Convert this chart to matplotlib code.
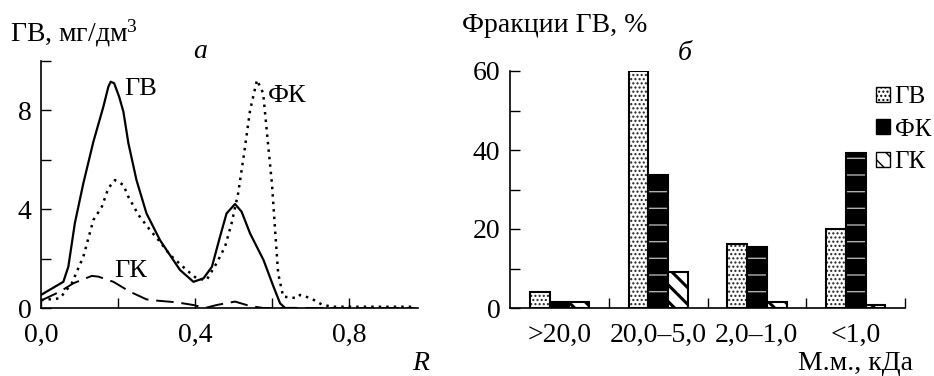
import matplotlib
matplotlib.use("Agg")
import matplotlib.pyplot as plt
import numpy as np
from matplotlib.patches import Patch

plt.rcParams['font.family'] = ['Liberation Serif', 'DejaVu Serif']
plt.rcParams['mathtext.fontset'] = 'custom'
plt.rcParams['mathtext.rm'] = 'Liberation Serif'
plt.rcParams['mathtext.it'] = 'Liberation Serif:italic'
plt.rcParams['hatch.linewidth'] = 1.0
FS = 20

# ---- panel a data ----
gv_x = [0.0, 0.058, 0.071, 0.088, 0.11, 0.136, 0.162, 0.175, 0.181, 0.19, 0.203, 0.214, 0.227, 0.248, 0.274, 0.309, 0.326, 0.361, 0.396, 0.422, 0.444, 0.465, 0.482, 0.504, 0.521, 0.543, 0.578, 0.604, 0.621, 0.634, 0.66]
gv_y = [0.53, 1.06, 1.67, 3.44, 5.05, 6.73, 8.15, 8.96, 9.16, 9.1, 8.55, 7.95, 6.67, 5.18, 3.83, 2.75, 2.35, 1.54, 1.06, 1.2, 1.67, 2.89, 3.83, 4.21, 3.9, 3.02, 1.94, 0.86, 0.19, 0.0, 0.0]
fk_x = [0.0, 0.049, 0.08, 0.11, 0.136, 0.158, 0.175, 0.192, 0.214, 0.227, 0.253, 0.283, 0.309, 0.335, 0.378, 0.404, 0.43, 0.456, 0.478, 0.495, 0.512, 0.527, 0.543, 0.561, 0.577, 0.587, 0.6, 0.608, 0.616, 0.629, 0.664, 0.673, 0.7, 0.732, 0.76, 0.97]
fk_y = [0.32, 0.39, 1.0, 2.08, 3.56, 4.1, 4.85, 5.18, 4.98, 4.5, 3.77, 3.16, 2.68, 2.15, 1.54, 1.2, 1.13, 1.81, 2.48, 3.43, 4.64, 6.2, 8.0, 9.23, 8.7, 7.08, 5.0, 3.16, 1.4, 0.46, 0.4, 0.53, 0.4, 0.12, 0.05, 0.05]
gk_x = [0.0, 0.049, 0.084, 0.132, 0.149, 0.188, 0.231, 0.274, 0.3, 0.352, 0.396, 0.426, 0.456, 0.504, 0.543, 0.577, 0.97]
gk_y = [0.3, 0.66, 1.0, 1.3, 1.27, 1.06, 0.66, 0.35, 0.3, 0.23, 0.12, 0.0, 0.12, 0.26, 0.08, 0.0, 0.0]
a_xticks = [0.0, 0.2, 0.4, 0.6, 0.8]
a_xticklabels = ["0,0", "", "0,4", "", "0,8"]
a_yticks = [0, 2, 4, 6, 8, 10]
a_yticklabels = ["0", "", "4", "", "8", ""]

# ---- panel b data ----
categories = [">20,0", "20,0\u20135,0", "2,0\u20131,0", "<1,0"]
series_names = ["ГВ", "ФК", "ГК"]
gv_pct = [4.0, 60.0, 16.1, 20.1]
fk_pct = [1.5, 33.7, 15.5, 39.2]
gk_pct = [1.5, 9.1, 1.5, 0.7]
b_yticks = [0, 10, 20, 30, 40, 50, 60]
b_yticklabels = ["0", "", "20", "", "40", "", "60"]

fig = plt.figure(figsize=(9.34, 3.76), dpi=100)

# ================= panel a =================
ax = fig.add_axes([41/934, 1-308/376, (418-41)/934, (308-61)/376])
ax.plot(gv_x, gv_y, color='black', lw=1.6, solid_joinstyle='round')
ax.plot(fk_x, fk_y, color='black', lw=1.8, linestyle=(0, (1.0, 2.0)))
ax.plot(gk_x, gk_y, color='black', lw=1.4, linestyle=(0, (9, 4)))
ax.set_xlim(0, 377/385)
ax.set_ylim(0, 10)
ax.set_xticks(a_xticks)
ax.set_xticklabels(a_xticklabels)
ax.set_yticks(a_yticks)
ax.set_yticklabels(a_yticklabels)
for s in ['top', 'right']:
    ax.spines[s].set_visible(False)
for s in ['left', 'bottom']:
    ax.spines[s].set_linewidth(1.2)
ax.tick_params(direction='in', length=7, width=1.0, labelsize=FS)
ax.tick_params(axis='y', pad=7)
ax.tick_params(axis='x', pad=11)
ax.text(0.215, 8.85, "ГВ", fontsize=FS - 1, va='center', ha='left')
ax.text(0.59, 8.6, "ФК", fontsize=FS - 1, va='center', ha='left')
ax.text(0.19, 1.5, "ГК", fontsize=FS - 1, va='center', ha='left')
fig.text(10/934, 1-33/376, "ГВ, мг/дм$^{3}$", fontsize=FS, va='center', ha='left')
fig.text(200/934, 1-52/376, "а", fontsize=FS, style='italic', va='center', ha='center')
fig.text(421/934, 1-364/376, "R", fontsize=FS, style='italic', va='center', ha='center')

# ================= panel b =================
bx = fig.add_axes([510/934, 1-308/376, (905-510)/934, (308-71)/376])
x = np.arange(len(categories))
w = 0.2
# ГВ: white with dots
bx.bar(x - w, gv_pct, w, facecolor='white', edgecolor='#222222', hatch='....', lw=0)
bx.bar(x - w, gv_pct, w, facecolor='none', edgecolor='black', lw=1.5)
# ФК: black with light dashes
with plt.rc_context({'hatch.linewidth': 1.0}):
    bx.bar(x, fk_pct, w, facecolor='black', edgecolor='#b0b0b0', hatch='-', lw=0)
bx.bar(x, fk_pct, w, facecolor='none', edgecolor='black', lw=1.5)
# ГК: white with black diagonals
with plt.rc_context({'hatch.linewidth': 2.2}):
    bx.bar(x + w, gk_pct, w, facecolor='white', edgecolor='black', hatch='\\\\', lw=0)
bx.bar(x + w, gk_pct, w, facecolor='none', edgecolor='black', lw=1.5)
bx.set_xlim(-0.5, 3.5)
bx.set_ylim(0, 60)
bx.set_yticks(b_yticks)
bx.set_yticklabels(b_yticklabels)
bx.set_xticks(x)
bx.set_xticklabels(categories)
bx.set_xticks([0.5, 1.5, 2.5, 3.5], minor=True)
for s in ['top', 'right']:
    bx.spines[s].set_visible(False)
for s in ['left', 'bottom']:
    bx.spines[s].set_linewidth(1.2)
bx.tick_params(axis='y', direction='in', length=7, width=1.0, labelsize=FS, pad=7)
bx.tick_params(axis='x', which='major', length=0, labelsize=FS, pad=11)
bx.tick_params(axis='x', which='minor', direction='in', length=7, width=1.0)
handles = [Patch(facecolor='white', edgecolor='black', hatch='....'),
           Patch(facecolor='black', edgecolor='black', hatch='-'),
           Patch(facecolor='white', edgecolor='black', hatch='\\\\')]
leg = bx.legend(handles, series_names, loc='upper right',
                bbox_to_anchor=((931-510)/395, 1 + (71-86)/237),
                frameon=False, fontsize=FS - 2, handlelength=0.55, handleheight=0.55,
                handletextpad=0.2, labelspacing=0.42, borderaxespad=0, borderpad=0)
fig.text(462/934, 1-25/376, "Фракции ГВ, %", fontsize=FS, va='center', ha='left')
fig.text(685/934, 1-53/376, "б", fontsize=FS, style='italic', va='center', ha='center')
fig.text(913/934, 1-364/376, "М.м., кДа", fontsize=FS, va='center', ha='right')

fig.savefig("out.png", dpi=100)
